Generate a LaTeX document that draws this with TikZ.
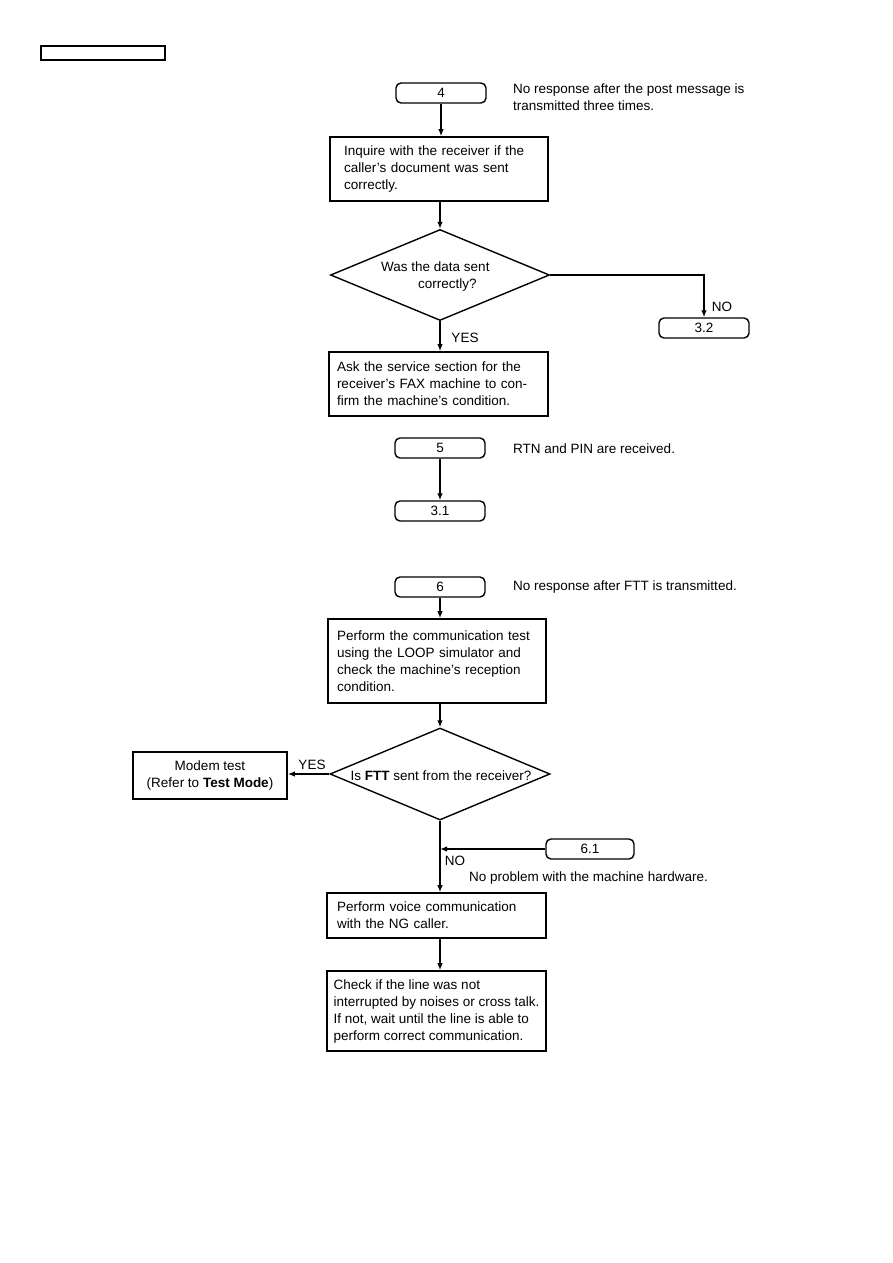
\documentclass[tikz,border=0pt]{standalone}
\usepackage{fontspec}
\setmainfont{Liberation Sans}
\usetikzlibrary{arrows.meta,shapes.geometric}
\begin{document}
\begin{tikzpicture}[x=1pt,y=-1pt,
  every node/.style={font=\fontsize{13.5}{17}\selectfont},
  term/.style={draw,line width=1.4pt,rounded corners=5pt,minimum width=90pt,minimum height=20pt,inner sep=0pt},
  box/.style={draw,line width=1.6pt,align=left,inner ysep=0pt},
  dia/.style={draw,diamond,line width=1.4pt,minimum width=219pt,minimum height=91pt,inner sep=0pt},
  lbl/.style={inner sep=0pt,align=left},
  arr/.style={line width=1.6pt,-{Latex[length=7pt,width=5.5pt]}}]
\useasboundingbox (0,0) rectangle (893,1263);
\node[draw,line width=1.3pt,minimum width=124pt,minimum height=14pt,inner sep=0pt] (hdr) at (103,53) {};

\node[term] (t4) at (441,93) {4};
\node[lbl,anchor=west] (n4) at (513,97.5) {No response after the post message is\\transmitted three times.};
\node[box,text width=190pt,inner xsep=14pt,minimum height=64pt] (b1) at (439,169) {Inquire with the receiver if the\\caller's document was sent\\correctly.};

\node[dia] (d1) at (440,275) {};
\node[lbl,anchor=west] (d1t) at (381,277) {Was the data sent\\\hspace*{37pt}correctly?};
\node[term] (t32) at (704,328) {3.2};
\node[lbl] (no1) at (722,307) {NO};
\node[lbl] (yes1) at (465,338) {YES};
\node[box,text width=203pt,inner xsep=8pt,minimum height=64pt] (b2) at (438.5,384) {Ask the service section for the\\receiver's FAX machine to con-\\firm the machine's condition.};

\node[term] (t5) at (440,448) {5};
\node[lbl,anchor=west] (n5) at (513,449) {RTN and PIN are received.};
\node[term] (t31) at (440,511) {3.1};

\node[term] (t6) at (440,587) {6};
\node[lbl,anchor=west] (n6) at (513,587) {No response after FTT is transmitted.};
\node[box,text width=200pt,inner xsep=9pt,minimum height=84pt] (b3) at (437,661) {Perform the communication test\\using the LOOP simulator and\\check the machine's reception\\condition.};
\node[dia,minimum height=92pt,minimum width=220pt] (d2) at (440,774) {};
\node[lbl] (d2t) at (441,776) {Is \textbf{FTT} sent from the receiver?};
\node[box,align=center,minimum width=154pt,minimum height=47pt,inner xsep=0pt] (mt) at (210,775.5) {Modem test\\(Refer to \textbf{Test Mode})};
\node[lbl] (yes2) at (312,765) {YES};
\node[term,minimum width=88pt] (t61) at (590,849) {6.1};
\node[lbl] (no2) at (455,861) {NO};
\node[lbl,anchor=west] (n61) at (469,878) {No problem with the machine hardware.};
\node[box,text width=199pt,inner xsep=10pt,minimum height=45pt] (b4) at (436.5,915.5) {Perform voice communication\\with the NG caller.};
\node[box,minimum width=219pt,inner xsep=0pt,minimum height=80pt] (b5) at (436.5,1011) {Check if the line was not\\interrupted by noises or cross talk.\\If not, wait until the line is able to\\perform correct communication.};

\draw[arr] (t4.south) -- (t4.south |- b1.north);
\draw[arr] (d1.north |- b1.south) -- (d1.north);
\draw[arr] (d1.east) -| (t32.north);
\draw[arr] (d1.south) -- (d1.south |- b2.north);
\draw[arr] (t5.south) -- (t31.north);
\draw[arr] (t6.south) -- (t6.south |- b3.north);
\draw[arr] (d2.north |- b3.south) -- (d2.north);
\draw[arr] (d2.west) -- (d2.west -| mt.east);
\draw[arr] (t61.west) -- (t61.west -| d2.south);
\draw[arr] (d2.south) -- (d2.south |- b4.north);
\draw[arr] (d2.south |- b4.south) -- (d2.south |- b5.north);
\end{tikzpicture}
\end{document}
